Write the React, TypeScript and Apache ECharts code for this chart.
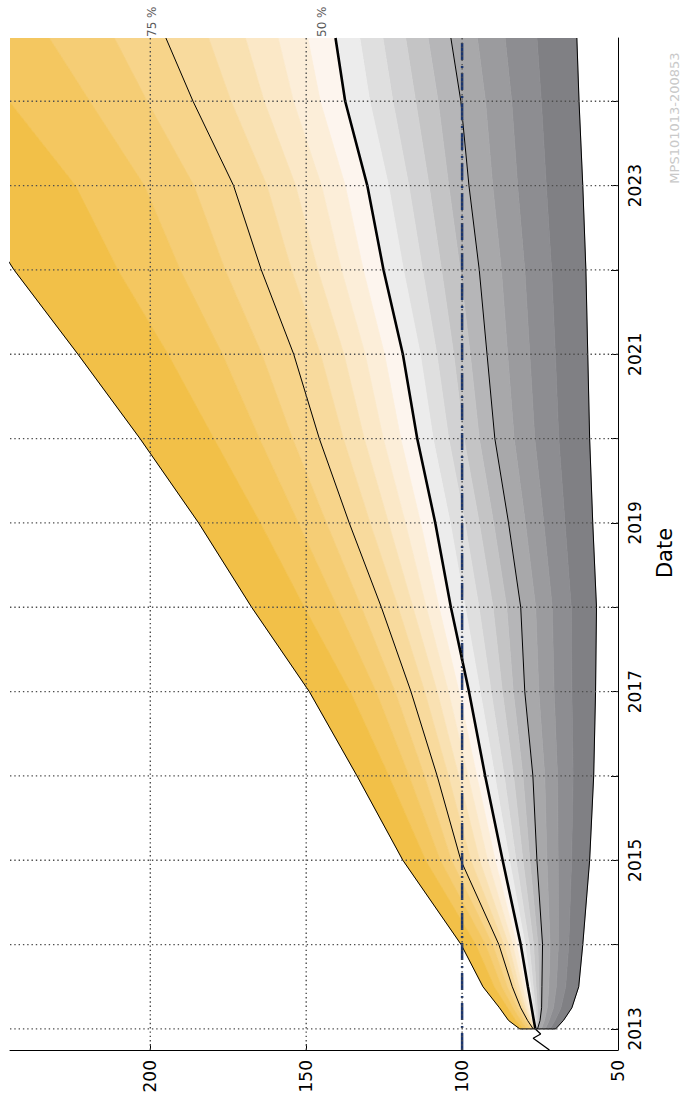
import React, { useEffect, useRef } from "react";
import * as echarts from "echarts";

// Forecast horizon (years) and quantile paths, 5 % steps from 5 % to 95 %
const DATES = [2013, 2013.1, 2013.25, 2013.5, 2014, 2015, 2016, 2017, 2018, 2019, 2020, 2021, 2022, 2023, 2024, 2024.75];
const Q05 = [70.0, 67.5, 64.8, 62.6, 61.3, 59.1, 57.8, 57.2, 56.9, 58.1, 59.1, 59.7, 60.3, 61.3, 62.5, 63.2];
const Q10 = [71.8, 70.2, 68.3, 66.8, 65.8, 64.9, 64.4, 64.8, 65.0, 67.0, 69.0, 70.1, 71.3, 73.0, 74.6, 76.0];
const Q15 = [73.3, 72.1, 70.7, 69.8, 69.1, 69.2, 69.4, 70.5, 71.1, 73.8, 76.7, 78.3, 79.9, 82.2, 84.1, 86.2];
const Q20 = [74.6, 73.6, 72.7, 72.2, 71.8, 72.8, 73.5, 75.4, 76.4, 79.7, 83.3, 85.4, 87.4, 90.2, 92.5, 95.1];
const Q25 = [75.8, 75.0, 74.5, 74.4, 74.2, 76.0, 77.3, 79.9, 81.2, 85.1, 89.5, 92.0, 94.5, 97.8, 100.4, 103.6];
const Q30 = [76.0, 75.4, 75.2, 75.4, 75.7, 78.3, 80.5, 83.6, 85.7, 89.9, 94.5, 97.4, 100.6, 104.3, 107.7, 110.9];
const Q35 = [76.1, 75.9, 75.9, 76.3, 77.1, 80.5, 83.5, 87.1, 90.1, 94.5, 99.4, 102.7, 106.6, 110.6, 114.9, 118.1];
const Q40 = [76.3, 76.2, 76.5, 77.2, 78.5, 82.7, 86.5, 90.7, 94.6, 99.1, 104.3, 108.1, 112.7, 117.1, 122.2, 125.4];
const Q45 = [76.4, 76.6, 77.1, 78.0, 79.8, 84.8, 89.5, 94.2, 99.0, 103.8, 109.3, 113.4, 118.8, 123.6, 129.6, 132.8];
const Q50 = [76.5, 77.0, 77.7, 78.9, 81.2, 87.0, 92.6, 97.8, 103.6, 108.6, 114.4, 119.0, 125.2, 130.4, 137.5, 140.6];
const Q55 = [76.6, 77.4, 78.3, 79.8, 82.5, 89.4, 95.3, 101.0, 107.4, 113.3, 119.7, 124.9, 131.7, 137.5, 145.5, 149.5];
const Q60 = [76.7, 77.7, 79.0, 80.7, 83.8, 91.8, 98.1, 104.4, 111.5, 118.2, 125.3, 131.1, 138.7, 145.1, 154.1, 159.0];
const Q65 = [76.9, 78.1, 79.7, 81.7, 85.1, 94.4, 101.1, 108.0, 115.8, 123.6, 131.4, 137.9, 146.3, 153.4, 163.5, 169.5];
const Q70 = [77.0, 78.5, 80.4, 82.8, 86.6, 97.2, 104.4, 112.0, 120.5, 129.5, 138.1, 145.4, 154.7, 162.6, 174.1, 181.3];
const Q75 = [77.2, 79.0, 81.2, 83.9, 88.2, 100.4, 108.0, 116.4, 125.9, 136.2, 145.8, 154.0, 164.4, 173.3, 186.3, 195.0];
const Q80 = [78.1, 80.0, 82.3, 85.5, 90.2, 103.4, 112.1, 121.5, 132.3, 143.5, 154.4, 164.2, 176.0, 186.0, 201.0, 211.5];
const Q85 = [79.2, 81.2, 83.7, 87.3, 92.5, 107.0, 117.0, 127.6, 140.0, 152.5, 165.0, 176.9, 190.4, 201.9, 219.4, 232.4];
const Q90 = [80.3, 82.8, 85.4, 89.7, 95.6, 111.7, 123.5, 135.9, 150.6, 164.7, 179.6, 194.3, 210.4, 224.0, 245.3, 261.8];
const Q95 = [81.5, 85.1, 88.0, 93.3, 100.3, 119.0, 133.7, 149.0, 167.5, 184.5, 203.3, 223.2, 243.7, 261.0, 289.0, 312.0];

const QUANTILES = [Q05, Q10, Q15, Q20, Q25, Q30, Q35, Q40, Q45, Q50, Q55, Q60, Q65, Q70, Q75, Q80, Q85, Q90, Q95];

// Observed history leading into the forecast origin
const HISTORY_DATES = [2012.75, 2012.89, 2012.94, 2013.0];
const HISTORY_VALUES = [72.0, 77.2, 74.8, 76.5];

// Reference level
const TARGET_VALUE = 100;

// Axes
const DATE_MIN = 2012.75;
const DATE_MAX = 2024.75;
const VALUE_MIN = 50;
const VALUE_MAX = 245;
const VALUE_TICKS = [50, 100, 150, 200];
const YEAR_TICKS = [2013, 2014, 2015, 2016, 2017, 2018, 2019, 2020, 2021, 2022, 2023, 2024];
const YEAR_LABELS = [2013, 2015, 2017, 2019, 2021, 2023];
const LINE_LABELS = ["75 %", "50 %"];

// Band fills: grey below the median (inner -> outer), amber above (inner -> outer)
const GRAY_SHADES = ["#ECECEC", "#DFDFDF", "#D2D2D3", "#C4C4C5", "#B6B6B8", "#A8A8AA", "#9B9B9E", "#8D8D91", "#808084"];
const ORANGE_SHADES = ["#FDF5EE", "#FCEED9", "#FBE8C7", "#F9E1B2", "#F8DA9D", "#F7D48A", "#F5CD75", "#F4C760", "#F2C048"];

const FONT = "DejaVu Sans";
const GRID_DASH = [1.4, 2.9];

function bandColor(i: number): string {
  return i < 9 ? GRAY_SHADES[8 - i] : ORANGE_SHADES[i - 9];
}

function pairs(values: number[], dates: number[]): number[][] {
  return values.map((v, k) => [v, dates[k]]);
}

function gridLine(data: number[][]): any {
  return {
    type: "line",
    z: 10,
    silent: true,
    symbol: "none",
    data,
    lineStyle: { color: "#4d4d4d", width: 1.4, type: GRID_DASH },
    emphasis: { disabled: true },
  };
}

export default function App() {
  const ref = useRef<HTMLDivElement>(null);

  useEffect(() => {
    if (!ref.current) return;
    const chart = echarts.init(ref.current, undefined, { renderer: "svg" });

    const bandCount = QUANTILES.length - 1;
    const envelope = [...pairs(Q95, DATES).reverse(), ...pairs(Q05, DATES)];
    const last = DATES.length - 1;
    const gridValues = VALUE_TICKS.filter((v) => v > VALUE_MIN);

    // dotted grid over the fan: one line per year and per value level above the 50 axis
    const gridSeries = [
      ...YEAR_TICKS.map((y) => gridLine([[VALUE_MAX, y], [VALUE_MIN, y]])),
      ...gridValues.map((v) => gridLine([[v, DATE_MIN], [v, DATE_MAX]])),
    ];

    const option: any = {
      animation: false,
      backgroundColor: "#ffffff",
      grid: { left: 10, right: 53, top: 38, bottom: 52, containLabel: false },
      xAxis: {
        type: "value",
        inverse: true,
        position: "bottom",
        min: VALUE_MIN,
        max: VALUE_MAX,
        interval: 50,
        z: 3,
        axisLine: { show: true, lineStyle: { color: "#000", width: 1 } },
        axisTick: { show: true, inside: true, length: 6, customValues: VALUE_TICKS, lineStyle: { color: "#000" } },
        axisLabel: {
          show: true,
          customValues: VALUE_TICKS,
          rotate: 90,
          margin: 10,
          color: "#000",
          fontFamily: FONT,
          fontSize: 17,
          formatter: (v: number) => String(v),
        },
        splitLine: { show: false },
      },
      yAxis: {
        type: "value",
        position: "right",
        min: DATE_MIN,
        max: DATE_MAX,
        minInterval: 1,
        maxInterval: 1,
        z: 3,
        name: "Date",
        nameLocation: "middle",
        nameRotate: 90,
        nameGap: 36,
        nameTextStyle: { color: "#000", fontFamily: FONT, fontSize: 21, padding: [0, 18, 0, 0] },
        axisLine: { show: true, lineStyle: { color: "#000", width: 1 } },
        axisTick: { show: true, inside: true, length: 7, customValues: YEAR_TICKS, lineStyle: { color: "#000" } },
        axisLabel: {
          show: true,
          customValues: YEAR_LABELS,
          rotate: 90,
          margin: 8,
          color: "#000",
          fontFamily: FONT,
          fontSize: 17,
          formatter: (v: number) => String(v),
        },
        splitLine: { show: false },
      },
      graphic: [
        {
          type: "text",
          x: 674,
          y: 118,
          rotation: Math.PI / 2,
          silent: true,
          style: {
            text: "MPS101013-200853",
            fill: "#c9c9c9",
            font: `13px "${FONT}"`,
            align: "center",
            verticalAlign: "middle",
          },
        },
      ],
      series: [
        {
          name: "fan",
          type: "custom",
          clip: true,
          z: 1,
          silent: true,
          data: Array.from({ length: bandCount }, () => [Q50[0], DATES[0]]),
          renderItem: (params: any, api: any) => {
            const i = params.dataIndex;
            const lower = QUANTILES[i];
            const upper = QUANTILES[i + 1];
            const pts: number[][] = [];
            for (let k = 0; k < DATES.length; k++) pts.push(api.coord([lower[k], DATES[k]]));
            for (let k = DATES.length - 1; k >= 0; k--) pts.push(api.coord([upper[k], DATES[k]]));
            const c = bandColor(i);
            return {
              type: "polygon",
              shape: { points: pts },
              style: { fill: c, stroke: c, lineWidth: 0.7 },
            };
          },
        },
        {
          name: "envelope",
          type: "line",
          z: 5,
          symbol: "none",
          data: envelope,
          lineStyle: { color: "#000", width: 1 },
        },
        {
          name: "75 %",
          type: "line",
          z: 5,
          symbol: "none",
          data: pairs(Q75, DATES),
          lineStyle: { color: "#000", width: 1 },
        },
        {
          name: "25 %",
          type: "line",
          z: 5,
          symbol: "none",
          data: pairs(Q25, DATES),
          lineStyle: { color: "#000", width: 1 },
        },
        {
          name: "target",
          type: "line",
          z: 6,
          symbol: "none",
          data: [
            [TARGET_VALUE, DATE_MIN],
            [TARGET_VALUE, DATE_MAX],
          ],
          lineStyle: { color: "#1B3670", width: 2.5, type: [17, 5, 2, 6] },
        },
        {
          name: "50 %",
          type: "line",
          z: 7,
          symbol: "none",
          data: pairs(Q50, DATES),
          lineStyle: { color: "#000", width: 2.6 },
        },
        {
          name: "history",
          type: "line",
          z: 7,
          symbol: "none",
          data: pairs(HISTORY_VALUES, HISTORY_DATES),
          lineStyle: { color: "#000", width: 1.3 },
        },
        ...gridSeries,
        {
          name: "labels",
          type: "custom",
          clip: false,
          z: 12,
          data: [
            [Q75[last], DATES[last]],
            [Q50[last], DATES[last]],
          ],
          renderItem: (params: any, api: any) => {
            const p = api.coord([api.value(0), api.value(1)]);
            return {
              type: "text",
              x: p[0] - 14,
              y: p[1] - 1,
              rotation: Math.PI / 2,
              style: {
                text: LINE_LABELS[params.dataIndex],
                fill: "#5a5a5a",
                font: `12px "${FONT}"`,
                align: "left",
                verticalAlign: "middle",
              },
            };
          },
        },
      ],
    };

    chart.setOption(option);
    return () => chart.dispose();
  }, []);

  return (
    <div
      ref={ref}
      style={{ position: "absolute", left: 0, top: 0, width: 683, height: 1102 }}
    />
  );
}
